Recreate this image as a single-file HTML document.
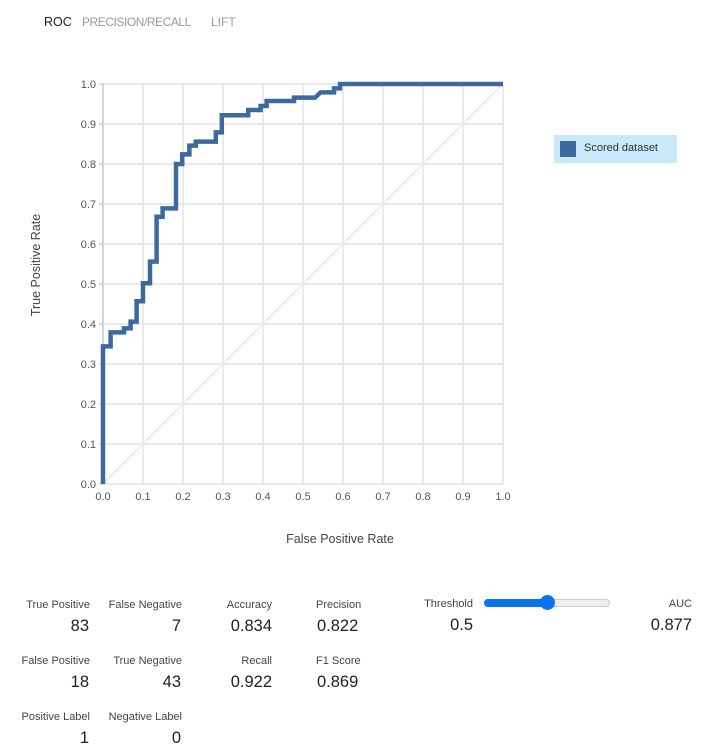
<!DOCTYPE html>
<html><head><meta charset="utf-8"><style>
body{margin:0;width:709px;height:748px;background:#fff;font-family:"Segoe UI","Liberation Sans",sans-serif;position:relative;overflow:hidden;color:#333}
.a{position:absolute;white-space:nowrap}
.lab{font-size:11px;color:#444}
.val{font-size:16.5px;color:#222}
.r{text-align:right}
</style></head><body>
<div class="a" style="left:44px;top:15px;font-size:12.5px;color:#222">ROC</div>
<div class="a" style="left:82px;top:15px;font-size:12px;color:#999;letter-spacing:-0.45px">PRECISION/RECALL</div>
<div class="a" style="left:211px;top:15px;font-size:12px;color:#999">LIFT</div>
<svg id="chart" width="709" height="570" style="position:absolute;left:0;top:0"></svg>
<div class="a" style="left:554px;top:135px;width:123px;height:28px;background:#c7e9f8">
<div style="position:absolute;left:6px;top:6px;width:16px;height:16px;background:#3d6a9e"></div>
<div style="position:absolute;left:30px;top:7px;font-size:11px;color:#333">Scored dataset</div></div>

<div class="a lab r" style="right:619px;top:599px">True Positive</div>
<div class="a val r" style="right:620px;top:617px">83</div>
<div class="a lab r" style="right:527px;top:599px">False Negative</div>
<div class="a val r" style="right:528px;top:617px">7</div>
<div class="a lab r" style="right:437px;top:599px">Accuracy</div>
<div class="a val r" style="right:437px;top:617px">0.834</div>
<div class="a lab" style="left:316px;top:599px">Precision</div>
<div class="a val" style="left:317px;top:617px">0.822</div>
<div class="a lab r" style="right:236px;top:598px">Threshold</div>
<div class="a val r" style="right:236px;top:616px">0.5</div>
<div class="a" style="left:484px;top:599px;width:126px;height:8px;border-radius:4px;background:#eee;border:1px solid #ccc;box-sizing:border-box">
<div style="position:absolute;left:-1px;top:-1px;width:63px;height:8px;border-radius:4px;background:#0a74f0"></div>
<div style="position:absolute;left:55px;top:-5px;width:15px;height:15px;border-radius:50%;background:#0a74f0"></div></div>
<div class="a lab r" style="right:17px;top:598px">AUC</div>
<div class="a val r" style="right:17px;top:616px">0.877</div>

<div class="a lab r" style="right:619px;top:655px">False Positive</div>
<div class="a val r" style="right:620px;top:673px">18</div>
<div class="a lab r" style="right:527px;top:655px">True Negative</div>
<div class="a val r" style="right:528px;top:673px">43</div>
<div class="a lab r" style="right:437px;top:655px">Recall</div>
<div class="a val r" style="right:437px;top:673px">0.922</div>
<div class="a lab" style="left:316px;top:655px">F1 Score</div>
<div class="a val" style="left:317px;top:673px">0.869</div>

<div class="a lab r" style="right:619px;top:711px">Positive Label</div>
<div class="a val r" style="right:620px;top:729px">1</div>
<div class="a lab r" style="right:527px;top:711px">Negative Label</div>
<div class="a val r" style="right:528px;top:729px">0</div>
<script>
const fpr=[0,0,0.019,0.019,0.0525,0.0525,0.069,0.069,0.084,0.084,0.10,0.10,0.1175,0.1175,0.134,0.134,0.149,0.149,0.1825,0.1825,0.198,0.198,0.216,0.216,0.232,0.232,0.282,0.282,0.297,0.297,0.363,0.363,0.394,0.394,0.409,0.409,0.4775,0.4775,0.53,0.544,0.5775,0.5775,0.5925,0.5925,1.0];
const tpr=[0,0.344,0.344,0.379,0.379,0.389,0.389,0.406,0.406,0.457,0.457,0.502,0.502,0.556,0.556,0.668,0.668,0.689,0.689,0.80,0.80,0.824,0.824,0.846,0.846,0.856,0.856,0.879,0.879,0.922,0.922,0.935,0.935,0.945,0.945,0.9575,0.9575,0.966,0.966,0.979,0.979,0.989,0.989,1.0,1.0];
const ticks=[0,0.1,0.2,0.3,0.4,0.5,0.6,0.7,0.8,0.9,1.0];
const X0=103,Y0=484,W=400,H=400;
const sx=v=>X0+v*W, sy=v=>Y0-v*H;
const svg=document.getElementById('chart');const NS='http://www.w3.org/2000/svg';
function mk(t,a){const e=document.createElementNS(NS,t);for(const k in a)e.setAttribute(k,a[k]);svg.appendChild(e);return e;}
ticks.forEach((t,i)=>{
 let g=mk('line',{x1:sx(t),x2:sx(t),y1:sy(0),y2:sy(1),stroke:'#e3e3e3','stroke-width':1.5});
 
 
 g=mk('line',{x1:sx(0),x2:sx(1),y1:sy(t),y2:sy(t),stroke:'#e3e3e3','stroke-width':1.5});
 
 
 let tx=mk('text',{x:sx(t),y:Y0+16,'text-anchor':'middle','font-size':11,fill:'#555'});tx.textContent=t.toFixed(1);
 
 
 let ty=mk('text',{x:X0-7,y:sy(t)+4,'text-anchor':'end','font-size':11,fill:'#555'});ty.textContent=t.toFixed(1);
 
 
 let tk=mk('line',{x1:X0-4,x2:X0,y1:sy(t),y2:sy(t),stroke:'#bbb'});
 
 
});
let ax=mk('line',{x1:X0,x2:X0,y1:sy(0),y2:sy(1),stroke:'#bbb'});


let dg=mk('line',{x1:sx(0),y1:sy(0),x2:sx(1),y2:sy(1),stroke:'#e6e6e6','stroke-width':1.5});


let p=mk('polyline',{points:fpr.map((f,i)=>sx(f)+','+sy(tpr[i])).join(' '),fill:'none',stroke:'#3d6a9e','stroke-width':4.5,'stroke-linejoin':'miter'});


let xl=mk('text',{x:340,y:543,'text-anchor':'middle','font-size':12.5,fill:'#444'});xl.textContent='False Positive Rate';


let yl=mk('text',{x:40,y:265,'text-anchor':'middle','font-size':12.5,fill:'#444',transform:'rotate(-90 40 265)'});yl.textContent='True Positive Rate';


</script>
</body></html>
